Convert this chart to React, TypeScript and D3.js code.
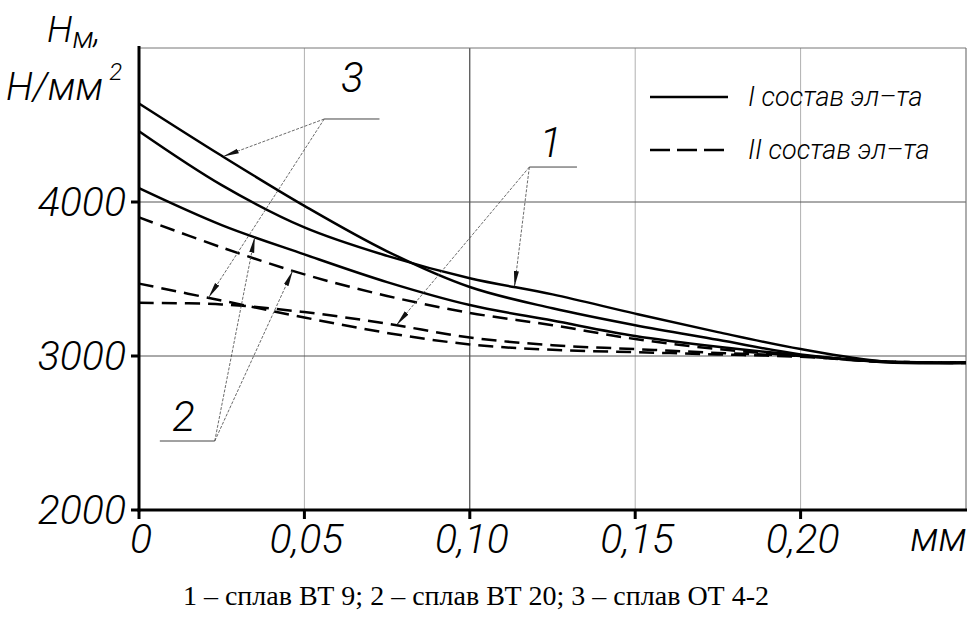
import React from "react";
import * as d3 from "d3";

// глубина, мм
const depth = [0, 0.025, 0.05, 0.075, 0.1, 0.125, 0.15, 0.175, 0.2, 0.225, 0.25];

// микротвердость Нм, Н/мм2
const vt9Solid = [4460, 4110, 3835, 3650, 3505, 3400, 3275, 3155, 3045, 2965, 2960];
const vt9Dashed = [3345, 3335, 3285, 3210, 3120, 3070, 3045, 3020, 3000, 2965, 2958];
const vt20Solid = [4090, 3850, 3660, 3480, 3331, 3230, 3130, 3060, 3005, 2962, 2955];
const vt20Dashed = [3900, 3705, 3530, 3390, 3280, 3200, 3110, 3045, 3000, 2965, 2958];
const ot42Solid = [4640, 4300, 3975, 3680, 3448, 3310, 3200, 3105, 3010, 2960, 2955];
const ot42Dashed = [3470, 3360, 3250, 3150, 3075, 3040, 3025, 3010, 2995, 2962, 2955];

const xTicks = [0, 0.05, 0.1, 0.15, 0.2];
const xTickLabels = ["0", "0,05", "0,10", "0,15", "0,20"];
const yTicks = [2000, 3000, 4000];
const yTickLabels = ["2000", "3000", "4000"];

const legendLabels = ["I состав эл–та", "II состав эл–та"];
const caption = "1 – сплав ВТ 9; 2 – сплав ВТ 20; 3 – сплав ОТ 4-2";

const W = 975;
const H = 618;
const margin = { top: 48, right: 9, bottom: 108, left: 139 };

const gost = "Roboto, 'DejaVu Sans', sans-serif";
const gostProps = { fontFamily: gost, fontWeight: 300, fontStyle: "italic", fill: "#000" };

export default function App() {
  const x = d3.scaleLinear().domain([0, 0.25]).range([margin.left, W - margin.right]);
  const y = d3.scaleLinear().domain([2000, 5000]).range([H - margin.bottom, margin.top]);

  const series = [
    { id: "vt9s", values: vt9Solid, dashed: false },
    { id: "vt9d", values: vt9Dashed, dashed: true },
    { id: "vt20s", values: vt20Solid, dashed: false },
    { id: "vt20d", values: vt20Dashed, dashed: true },
    { id: "ot42s", values: ot42Solid, dashed: false },
    { id: "ot42d", values: ot42Dashed, dashed: true },
  ];
  const byId: Record<string, number[]> = {};
  series.forEach((s) => (byId[s.id] = s.values));

  const line = d3
    .line<[number, number]>()
    .x((d) => x(d[0]))
    .y((d) => y(d[1]))
    .curve(d3.curveCatmullRom.alpha(0.5));

  const valueAt = (id: string, xv: number) => d3.scaleLinear().domain(depth).range(byId[id])(xv);

  // выноски: полка, номер и стрелки к кривым
  const callouts = [
    { label: "3", shelf: [0.056, 0.0727], shelfY: 4539, from: 0, text: [0.0645, 4714], tips: [["ot42s", 0.0254], ["ot42d", 0.021]] },
    { label: "1", shelf: [0.118, 0.1324], shelfY: 4227, from: 0, text: [0.1245, 4290], tips: [["vt9s", 0.1135], ["vt9d", 0.0778]] },
    { label: "2", shelf: [0.0063, 0.0229], shelfY: 2448, from: 1, text: [0.0135, 2510], tips: [["vt20s", 0.035], ["vt20d", 0.0465]] },
  ];

  const plotLeft = x(0);
  const plotRight = x(0.25);
  const plotTop = y(5000);
  const plotBottom = y(2000);

  return (
    <svg width={W} height={H} style={{ position: "absolute", left: 0, top: 0, background: "#fff" }}>
      <defs>
        <marker id="arr" viewBox="0 0 16 6" refX="16" refY="3" markerWidth="16" markerHeight="6" markerUnits="userSpaceOnUse" orient="auto">
          <path d="M0,0.5 L16,3 L0,5.5 z" fill="#111" />
        </marker>
      </defs>

      {/* сетка */}
      {[0.05, 0.15, 0.2].map((t) => (
        <line key={"gx" + t} x1={x(t)} x2={x(t)} y1={plotTop} y2={plotBottom} stroke="#b0b0b0" strokeWidth={1} />
      ))}
      <line x1={x(0.1)} x2={x(0.1)} y1={plotTop} y2={plotBottom} stroke="#222" strokeWidth={1} />
      {[3000, 4000].map((t) => (
        <line key={"gy" + t} x1={plotLeft} x2={plotRight} y1={y(t)} y2={y(t)} stroke="#555" strokeWidth={1} />
      ))}
      <line x1={plotLeft} x2={plotRight} y1={plotTop} y2={plotTop} stroke="#777" strokeWidth={1} />
      <line x1={plotRight} x2={plotRight} y1={plotTop} y2={plotBottom} stroke="#777" strokeWidth={1.2} />

      {/* кривые */}
      {series.map((s) => (
        <path
          key={s.id}
          d={line(depth.map((d, i) => [d, s.values[i]]) as [number, number][]) || ""}
          fill="none"
          stroke="#000"
          strokeWidth={2.5}
          strokeDasharray={s.dashed ? "15,8" : undefined}
        />
      ))}

      {/* выноски */}
      {callouts.map((c) => {
        const ox = x(c.shelf[c.from]);
        const oy = y(c.shelfY);
        return (
          <g key={"c" + c.label}>
            <line x1={x(c.shelf[0])} x2={x(c.shelf[1])} y1={oy} y2={oy} stroke="#444" strokeWidth={1} />
            {c.tips.map(([id, xv]) => (
              <line
                key={id as string}
                x1={ox}
                y1={oy}
                x2={x(xv as number)}
                y2={y(valueAt(id as string, xv as number))}
                stroke="#444"
                strokeWidth={0.8}
                strokeDasharray="3,1.5"
                markerEnd="url(#arr)"
              />
            ))}
            <text x={x(c.text[0])} y={y(c.text[1])} textAnchor="middle" fontSize={42} {...gostProps}>
              {c.label}
            </text>
          </g>
        );
      })}

      {/* оси */}
      <line x1={plotLeft} x2={plotLeft} y1={plotTop - 2} y2={plotBottom + 1.5} stroke="#000" strokeWidth={3} />
      <line x1={plotLeft - 1.5} x2={plotRight + 1} y1={plotBottom} y2={plotBottom} stroke="#000" strokeWidth={3} />
      {yTicks.map((t, i) => (
        <g key={"yt" + t}>
          <line x1={plotLeft - 8} x2={plotLeft} y1={y(t)} y2={y(t)} stroke="#000" strokeWidth={3} />
          <text x={plotLeft - 13} y={y(t) + 14} textAnchor="end" fontSize={41} {...gostProps}>
            {yTickLabels[i]}
          </text>
        </g>
      ))}
      {xTicks.map((t, i) => (
        <g key={"xt" + t}>
          <line x1={x(t)} x2={x(t)} y1={plotBottom} y2={plotBottom + 9} stroke="#000" strokeWidth={3} />
          <text x={x(t) + 2} y={plotBottom + 43} textAnchor="middle" fontSize={41} {...gostProps}>
            {xTickLabels[i]}
          </text>
        </g>
      ))}
      <text x={W - 8} y={plotBottom + 41} textAnchor="end" fontSize={40} {...gostProps}>
        мм
      </text>

      {/* подпись оси Y */}
      <text x={47} y={42} fontSize={37} {...gostProps}>
        Н<tspan fontSize={30} dy={6}>м</tspan><tspan dy={-6}>,</tspan>
      </text>
      <text x={6} y={100} fontSize={39} {...gostProps}>
        Н/мм<tspan fontSize={24} dx={6} dy={-20}>2</tspan>
      </text>

      {/* легенда */}
      <line x1={650} x2={728} y1={97} y2={97} stroke="#000" strokeWidth={2.5} />
      <line x1={650} x2={728} y1={150} y2={150} stroke="#000" strokeWidth={2.5} strokeDasharray="20,7" />
      {legendLabels.map((l, i) => (
        <text key={l} x={748} y={106 + i * 53} fontSize={27} {...gostProps}>
          {l}
        </text>
      ))}

      {/* подпись к рисунку */}
      <text x={476} y={605} textAnchor="middle" fontFamily="'Liberation Serif', 'Times New Roman', serif" fontSize={28} fill="#000">
        {caption}
      </text>
    </svg>
  );
}
